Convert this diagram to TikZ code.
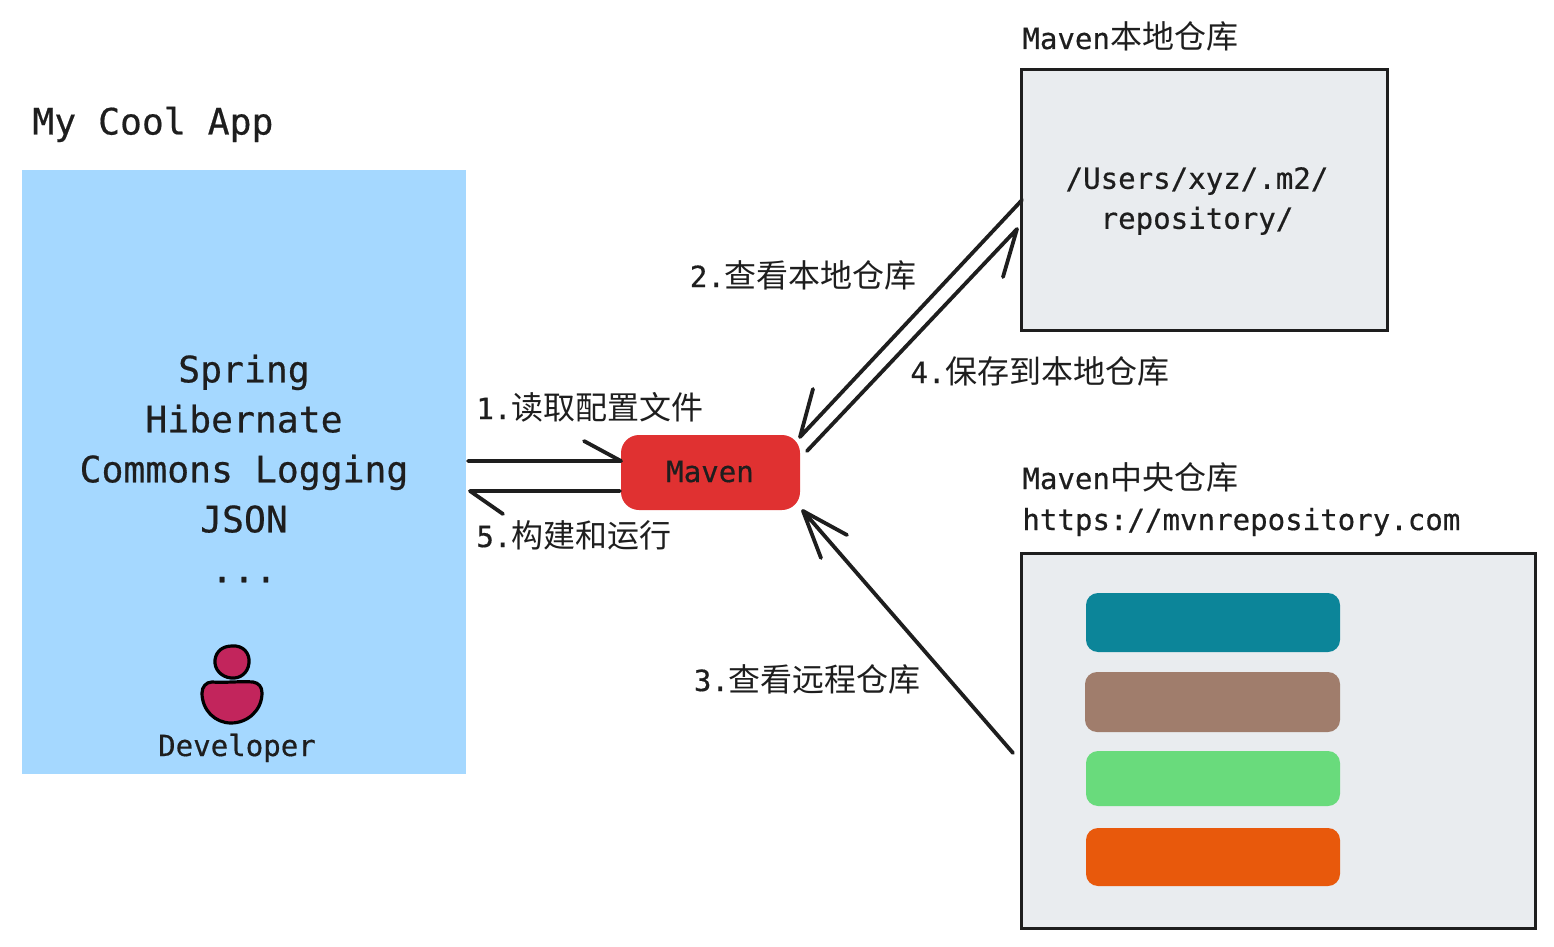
\documentclass[tikz,border=0pt]{standalone}
\usepackage{fontspec}
\setmainfont[FakeBold=0.5]{DejaVu Sans Mono}
\newfontfamily\cjkf{Noto Sans CJK SC}
\newcommand{\zh}[1]{{\fontsize{16pt}{20pt}\cjkf #1}}
\definecolor{ink}{HTML}{1E1E1E}
\definecolor{skyfill}{HTML}{A5D8FF}
\definecolor{greyfill}{HTML}{E9ECEF}
\definecolor{redfill}{HTML}{E03131}
\definecolor{tealfill}{HTML}{0C8599}
\definecolor{brownfill}{HTML}{A07D6C}
\definecolor{greenfill}{HTML}{69DB7C}
\definecolor{orangefill}{HTML}{E8590C}
\definecolor{pinkfill}{HTML}{C2255C}
\tikzset{
  x=0.5pt,y=-0.5pt,
  txt/.style={text=ink,inner sep=0pt,font=\fontsize{14.55pt}{20pt}\selectfont},
  bigtxt/.style={text=ink,inner sep=0pt,font=\fontsize{18.2pt}{25pt}\selectfont},
  repo/.style={draw=ink,fill=greyfill,line width=1.5pt},
  bar/.style={rounded corners=6pt},
  conn/.style={draw=ink,line width=1.9pt,line cap=round,line join=round},
  person/.style={draw=black,fill=pinkfill,line width=1.6pt,line join=round},
}
\begin{document}
\begin{tikzpicture}
\useasboundingbox (0,0) rectangle (1554,947);
% containers
\fill[skyfill] (22,170) rectangle (466,774);
\coordinate (appE1) at (468,461);
\coordinate (appE2) at (470,491);
\path[repo] (1021,70) rectangle (1387,330);
\path[repo] (1021,553) rectangle (1535,928);
% bars
\fill[tealfill,bar] (1086,593) rectangle (1340,652);
\fill[brownfill,bar] (1085,672) rectangle (1340,732);
\fill[greenfill,bar] (1086,751) rectangle (1340,806);
\fill[orangefill,bar] (1086,828) rectangle (1340,886);
% maven
\node[fill=redfill,rounded corners=9pt,minimum width=89.5pt,minimum height=37.5pt,inner sep=0pt] (maven) at (710.5,472.5) {};
% person
\draw[person] (232,646) .. controls (243,645) and (250,653) .. (249,663)
  .. controls (248,673) and (240,679) .. (231,678)
  .. controls (221,677) and (214,669) .. (215,660)
  .. controls (216,651) and (223,646) .. (232,646) -- cycle;
\draw[person] (212,682) .. controls (225,683) and (240,681) .. (253,682)
  .. controls (259,683) and (262,687) .. (262,693)
  .. controls (262,710) and (248,723) .. (231,723)
  .. controls (215,723) and (202,710) .. (202,693)
  .. controls (202,687) and (206,682) .. (212,682) -- cycle;
% texts
\node[bigtxt,anchor=base west] (apptitle) at (32,134.5) {My Cool App};
\node[bigtxt,align=center,anchor=center] (libs) at (244,468.5) {Spring\\Hibernate\\Commons Logging\\JSON\\...};
\node[txt,anchor=base] (dev) at (237,756) {Developer};
\node[txt,anchor=base] (mavenlabel) at (710,482) {Maven};
\node[txt,anchor=base west] (localtitle) at (1022,49) {Maven\zh{本地仓库}};
\node[txt,align=center,anchor=center] (localpath) at (1197,201) {/Users/xyz/.m2/\\repository/};
\node[txt,anchor=base west] (centraltitle) at (1022,489) {Maven\zh{中央仓库}};
\node[txt,anchor=base west] (centralurl) at (1022,530) {https://mvnrepository.com};
\node[txt,anchor=base west] (step1) at (476,419) {1.\zh{读取配置文件}};
\node[txt,anchor=base west] (step2) at (689.5,287) {2.\zh{查看本地仓库}};
\node[txt,anchor=base west] (step3) at (693.5,691) {3.\zh{查看远程仓库}};
\node[txt,anchor=base west] (step4) at (910,383) {4.\zh{保存到本地仓库}};
\node[txt,anchor=base west] (step5) at (476,547) {5.\zh{构建和运行}};
% connector ends
\coordinate (mW1) at (621,461);
\coordinate (mW2) at (620,491);
\coordinate (mNE1) at (800,437);
\coordinate (mNE2) at (807,451);
\coordinate (mSE) at (803,511);
\coordinate (locW1) at (1022,200);
\coordinate (locW2) at (1017,229);
\coordinate (cenW) at (1013,753);
\coordinate (b1) at (584,441);
\coordinate (b5) at (503,514);
\coordinate (b2) at (813,389);
\coordinate (b4) at (1003,277);
\coordinate (b3a) at (821,558);
\coordinate (b3b) at (847,535);
\draw[conn] (appE1) -- (mW1) -- (b1);
\draw[conn] (mW2) -- (appE2) -- (b5);
\draw[conn] (locW1) -- (mNE1) -- (b2);
\draw[conn] (mNE2) -- (locW2) -- (b4);
\draw[conn] (cenW) -- (mSE) -- (b3a);
\draw[conn] (mSE) -- (b3b);
\end{tikzpicture}
\end{document}
